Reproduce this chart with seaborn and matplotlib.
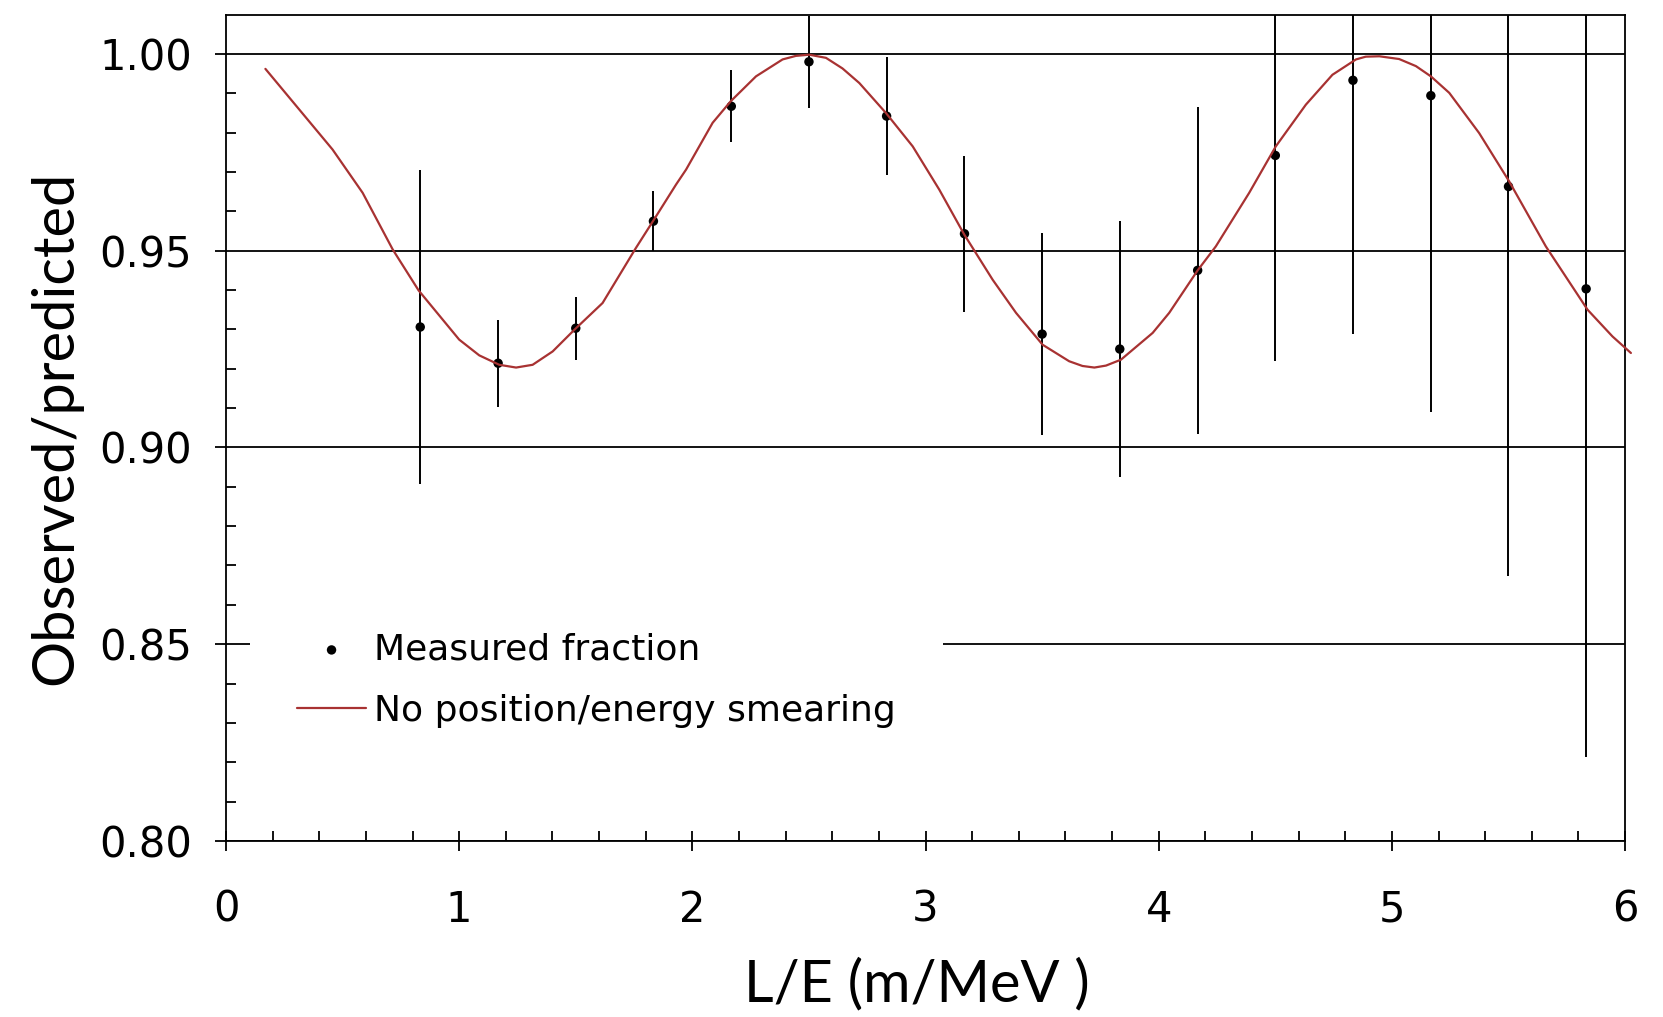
import numpy as np
import pandas as pd
import seaborn as sns
import matplotlib
matplotlib.use('Agg')
import matplotlib.pyplot as plt
from matplotlib.ticker import MultipleLocator, FormatStrFormatter

# measured points (L/E, observed/predicted, error)
le_points = [0.833, 1.167, 1.500, 1.833, 2.167, 2.500, 2.833, 3.167,
             3.500, 3.833, 4.167, 4.500, 4.833, 5.167, 5.500, 5.833]
ratio = [0.9306, 0.9214, 0.9303, 0.9575, 0.9867, 0.9980, 0.9842, 0.9543,
         0.9288, 0.9250, 0.9450, 0.9742, 0.9933, 0.9894, 0.9663, 0.9403]
ratio_err = [0.0400, 0.0110, 0.0080, 0.0076, 0.0091, 0.0117, 0.0150, 0.0198,
             0.0256, 0.0326, 0.0415, 0.0523, 0.0645, 0.0805, 0.0990, 0.1190]

# prediction curve
curve_x = [0.169, 0.457, 0.586, 0.715, 0.826, 1.000, 1.086, 1.172, 1.244, 1.315,
           1.401, 1.494, 1.615, 1.758, 1.844, 1.930, 1.973, 2.087, 2.165, 2.273,
           2.387, 2.444, 2.501, 2.573, 2.644, 2.716, 2.830, 2.945, 3.059, 3.166,
           3.288, 3.388, 3.502, 3.616, 3.673, 3.724, 3.774, 3.838, 3.974, 4.045,
           4.167, 4.245, 4.388, 4.502, 4.631, 4.745, 4.846, 4.888, 4.946, 5.031,
           5.103, 5.167, 5.246, 5.374, 5.503, 5.660, 5.839, 5.946, 6.025]
curve_y = [0.9962, 0.9757, 0.9647, 0.9503, 0.9399, 0.9274, 0.9234, 0.9210, 0.9203, 0.9210,
           0.9244, 0.9299, 0.9367, 0.9507, 0.9587, 0.9668, 0.9706, 0.9825, 0.9880, 0.9943,
           0.9986, 0.9995, 0.9998, 0.9990, 0.9963, 0.9926, 0.9850, 0.9765, 0.9655, 0.9541,
           0.9426, 0.9342, 0.9261, 0.9219, 0.9207, 0.9203, 0.9208, 0.9223, 0.9291, 0.9342,
           0.9450, 0.9511, 0.9647, 0.9765, 0.9871, 0.9947, 0.9986, 0.9993, 0.9994, 0.9987,
           0.9969, 0.9943, 0.9901, 0.9799, 0.9676, 0.9511, 0.9350, 0.9282, 0.9240]

y_ticks = [0.80, 0.85, 0.90, 0.95, 1.00]

pts = pd.DataFrame({'le': le_points, 'ratio': ratio, 'err': ratio_err})
curve = pd.DataFrame({'le': curve_x, 'ratio': curve_y})

sns.set_style('white')
plt.rcParams['font.family'] = ['DejaVu Sans']
plt.rcParams['text.color'] = 'black'
plt.rcParams['axes.labelcolor'] = 'black'

fig = plt.figure(figsize=(16.63, 10.17), dpi=100)
ax = fig.add_axes([0.1359, 0.1731, 0.8413, 0.8122])

ax.errorbar(pts['le'], pts['ratio'], yerr=pts['err'], fmt='none',
            ecolor='black', elinewidth=1.4, capsize=0, zorder=3)
sns.scatterplot(data=pts, x='le', y='ratio', color='black', s=46,
                edgecolor='none', ax=ax, zorder=4, label='Measured fraction')
sns.lineplot(data=curve, x='le', y='ratio', color='#a83232', linewidth=1.6,
             estimator=None, sort=False, ax=ax, zorder=5,
             label='No position/energy smearing')
ax.get_lines()[-1].set_clip_on(False)

ax.set_xlim(0, 6)
ax.set_ylim(0.80, 1.0099)
ax.set_yticks(y_ticks)
ax.yaxis.set_major_formatter(FormatStrFormatter('%.2f'))
ax.xaxis.set_major_locator(MultipleLocator(1))
ax.xaxis.set_minor_locator(MultipleLocator(0.2))
ax.yaxis.set_minor_locator(MultipleLocator(0.01))

ax.grid(False)
ax.yaxis.grid(True, which='major', color='black', linewidth=1.3)
for sp in ax.spines.values():
    sp.set_color('black')
    sp.set_linewidth(1.3)
ax.set_axisbelow(True)

ax.tick_params(axis='x', which='major', direction='inout', length=15,
               width=1.3, pad=27, labelsize=30, colors='black')
ax.tick_params(axis='y', which='major', direction='out', length=7.6,
               width=1.3, pad=17, labelsize=30, colors='black')
ax.tick_params(axis='both', which='minor', direction='in', length=7.3,
               width=1.3, colors='black')
ax.tick_params(bottom=True, left=True, top=False, right=False)
ax.tick_params(which='minor', bottom=True, left=True, top=False, right=False)

ax.set_xlabel('L/E (m/MeV )', fontsize=41.5, family='Lato')
ax.set_ylabel('Observed/predicted', fontsize=41.5, family='Lato')
ax.xaxis.set_label_coords(0.494, -0.1416)
ax.yaxis.set_label_coords(-0.103, 0.5)

handles, labels = ax.get_legend_handles_labels()
leg = ax.legend(handles=handles, labels=labels, loc='upper left',
                bbox_to_anchor=(0.0171, 0.3093), borderaxespad=0,
                frameon=True, fancybox=False, facecolor='white',
                edgecolor='none', framealpha=1, fontsize=26,
                handlelength=1.92, handletextpad=0.22, labelspacing=0.76,
                borderpad=1.3)
leg.set_zorder(6)

fig.savefig('out.png', dpi=100, facecolor='white')
